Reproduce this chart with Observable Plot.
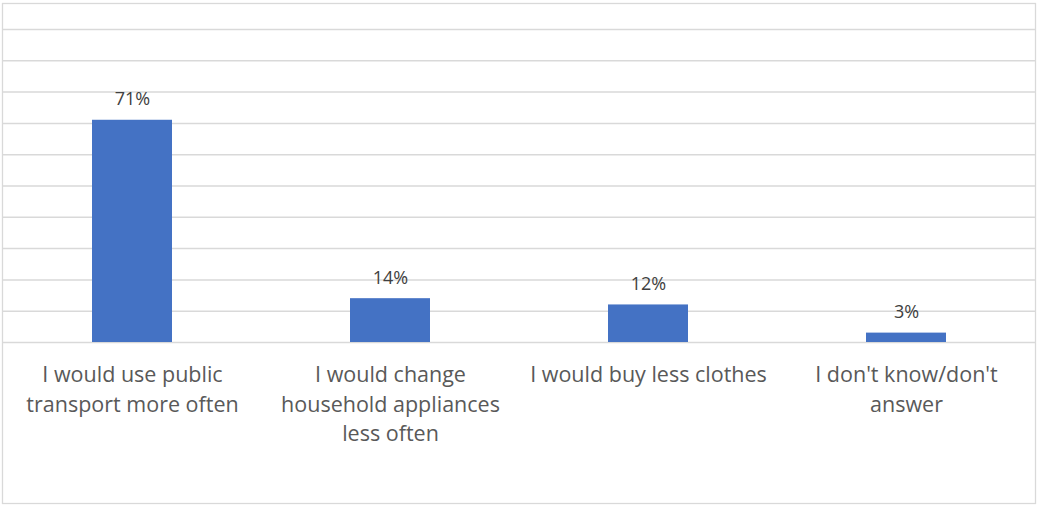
<!DOCTYPE html>
<html>
<head>
<meta charset="utf-8">
<script src="https://cdn.jsdelivr.net/npm/d3@7"></script>
<script src="https://cdn.jsdelivr.net/npm/@observablehq/plot@0.6"></script>
<style>
  html, body { margin: 0; padding: 0; background: #fff; }
  #chart svg { display: block; }
</style>
</head>
<body>
<div id="chart"></div>
<script>
const categories = [
  "I would use public\ntransport more often",
  "I would change\nhousehold appliances\nless often",
  "I would buy less clothes",
  "I don't know/don't\nanswer"
];
const values = [71, 14, 12, 3];
const gridTicks = [0, 10, 20, 30, 40, 50, 60, 70, 80, 90, 100];

const data = categories.map((c, i) => ({category: c, value: values[i]}));

const chart = Plot.plot({
  width: 1038,
  height: 505,
  marginLeft: 3,
  marginRight: 3,
  marginTop: 29,
  marginBottom: 163,
  style: {fontFamily: "'Open Sans', sans-serif", background: "#fff"},
  x: {domain: categories, paddingInner: 0.69, paddingOuter: 0.345, label: null},
  y: {domain: [0, 100], axis: null},
  marks: [
    Plot.frame({stroke: "#d9d9d9", strokeWidth: 1.3, insetTop: -26, insetBottom: -161, insetLeft: -1, insetRight: 0}),
    Plot.ruleY(gridTicks, {stroke: "#d9d9d9", strokeWidth: 1.5}),
    Plot.barY(data, {x: "category", y: "value", fill: "#4472C4"}),
    Plot.text(data, {x: "category", y: "value", text: d => d.value + "%", dy: -15, lineAnchor: "bottom", fontSize: 18, fill: "#404040"}),
    Plot.axisX({tickSize: 0, tickPadding: 19, fontSize: 21.5, lineHeight: 1.36, fill: "#595959", label: null})
  ]
});
document.getElementById("chart").appendChild(chart);
</script>
</body>
</html>
